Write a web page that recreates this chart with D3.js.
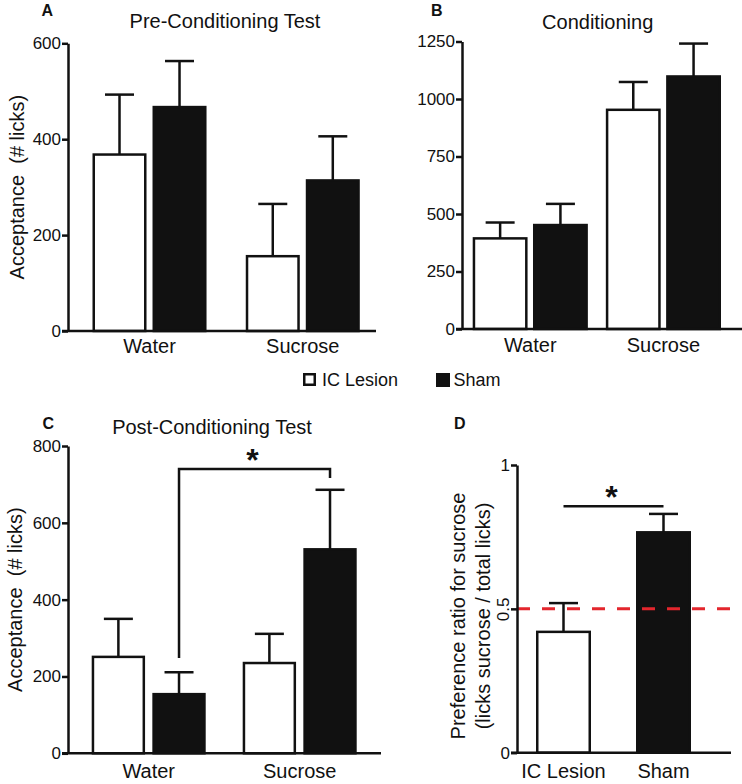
<!DOCTYPE html>
<html>
<head>
<meta charset="utf-8">
<script src="https://cdn.jsdelivr.net/npm/d3@7"></script>
<style>
  body { margin: 0; background: #fff; }
  svg { display: block; font-family: "Liberation Sans", Arial, sans-serif; }
</style>
</head>
<body>
<div id="chart"></div>
<script>
// categories
const groups = ['Water', 'Sucrose'];
const treatments = ['IC Lesion', 'Sham'];

// A - pre-conditioning test (mean / SEM, # licks)
const preLesion = [368, 156];
const preLesionSem = [125, 109];
const preSham = [467, 314];
const preShamSem = [96, 92];

// B - conditioning
const condLesion = [394, 953];
const condLesionSem = [69, 121];
const condSham = [452, 1098];
const condShamSem = [92, 143];

// C - post-conditioning test
const postLesion = [251, 235];
const postLesionSem = [99, 76];
const postSham = [154, 531];
const postShamSem = [57, 155];
// bracket: left leg end, top, right leg end (# licks)
const postBracket = [248, 740, 717];

// D - preference ratio
const ratioMean = [0.42, 0.766];
const ratioSem = [0.10, 0.064];
const ratioSigLine = 0.857;
const chanceLevel = 0.5;

// tick labels
const ticksA = [0, 200, 400, 600];
const ticksB = [0, 250, 500, 750, 1000, 1250];
const ticksC = [0, 200, 400, 600, 800];
const ticksD = [0, 0.5, 1];

const W = 742, H = 784;
const ink = '#111';
const lw = 2.5;

const svg = d3.select('#chart').append('svg')
  .attr('width', W)
  .attr('height', H);

function yAxis(g, y, ticks, fmt) {
  const ax = d3.axisLeft(y).tickValues(ticks).tickSize(6).tickPadding(1).tickSizeOuter(0)
    .tickFormat(fmt || d3.format('d'));
  g.call(ax);
  g.attr('font-family', null).attr('font-size', null);
  g.select('.domain').attr('stroke', ink).attr('stroke-width', lw);
  g.selectAll('.tick line').attr('stroke', ink).attr('stroke-width', lw);
  g.selectAll('.tick text').attr('fill', ink).style('font-size', '17px');
}

function barPanel(p) {
  const y = d3.scaleLinear().domain([0, p.yMax]).range([p.y0, p.y1]);
  const x0 = d3.scaleBand().domain(groups).range([p.xa, p.xb]).paddingInner(p.pad);
  const x1 = d3.scaleBand().domain(treatments).range([0, x0.bandwidth()]).paddingInner(p.subPad);

  const rows = groups.flatMap((gName, i) => [
    { g: gName, t: 'IC Lesion', m: p.lesion[i], e: p.lesionSem[i] },
    { g: gName, t: 'Sham', m: p.sham[i], e: p.shamSem[i] }
  ]);
  const cx = d => x0(d.g) + x1(d.t) + x1.bandwidth() / 2;

  const g = svg.append('g');

  // error bars
  g.selectAll('line.stem').data(rows).enter().append('line')
    .attr('x1', cx).attr('x2', cx)
    .attr('y1', d => y(d.m)).attr('y2', d => y(d.m + d.e))
    .attr('stroke', ink).attr('stroke-width', lw);
  g.selectAll('line.cap').data(rows).enter().append('line')
    .attr('x1', d => cx(d) - 14.5).attr('x2', d => cx(d) + 14.5)
    .attr('y1', d => y(d.m + d.e)).attr('y2', d => y(d.m + d.e))
    .attr('stroke', ink).attr('stroke-width', lw);

  // bars
  g.selectAll('rect').data(rows).enter().append('rect')
    .attr('x', d => x0(d.g) + x1(d.t) + lw / 2)
    .attr('width', x1.bandwidth() - lw)
    .attr('y', d => y(d.m))
    .attr('height', d => p.y0 - y(d.m))
    .attr('fill', d => d.t === 'Sham' ? ink : '#fff')
    .attr('stroke', ink).attr('stroke-width', lw);

  // axes
  g.append('line')
    .attr('x1', p.ax - 6).attr('x2', p.xEnd)
    .attr('y1', p.y0).attr('y2', p.y0)
    .attr('stroke', ink).attr('stroke-width', lw);
  yAxis(g.append('g').attr('transform', `translate(${p.ax},0)`), y, p.ticks);

  const xg = g.append('g').attr('transform', `translate(0,${p.y0})`)
    .call(d3.axisBottom(x0).tickSize(0).tickPadding(p.labPad));
  xg.attr('font-family', null).attr('font-size', null);
  xg.select('.domain').remove();
  xg.selectAll('text').attr('fill', ink).style('font-size', '20px');

  // title, panel letter, y label
  if (p.title) {
    g.append('text').attr('x', p.titleX).attr('y', p.titleY)
      .attr('text-anchor', 'middle').style('font-size', '20px').attr('fill', ink)
      .text(p.title);
  }
  g.append('text').attr('x', p.letterX).attr('y', p.letterY)
    .style('font-size', '16px').style('font-weight', 700).attr('fill', ink)
    .text(p.letter);
  if (p.yLabel) {
    g.append('text')
      .attr('transform', `translate(${p.yLabX},${(p.y0 + p.y1) / 2}) rotate(-90)`)
      .attr('text-anchor', 'middle').style('font-size', '20px').attr('fill', ink)
      .text(p.yLabel);
  }
  return { x0, x1, y, g, cx };
}

// A
barPanel({
  lesion: preLesion, lesionSem: preLesionSem, sham: preSham, shamSem: preShamSem,
  yMax: 600, ticks: ticksA, y0: 331, y1: 43.3,
  xa: 92.5, xb: 359.8, pad: 0.256, subPad: 0.1, ax: 68, xEnd: 376, labPad: 8,
  title: 'Pre-Conditioning Test', titleX: 225, titleY: 28,
  letter: 'A', letterX: 41.5, letterY: 15.5,
  yLabel: 'Acceptance\u00a0\u00a0(# licks)', yLabX: 24
});

// B
barPanel({
  lesion: condLesion, lesionSem: condLesionSem, sham: condSham, shamSem: condShamSem,
  yMax: 1250, ticks: ticksB, y0: 329, y1: 41.5,
  xa: 472.7, xb: 721, pad: 0.135, subPad: 0.09, ax: 462, xEnd: 742, labPad: 8.5,
  title: 'Conditioning', titleX: 597.7, titleY: 29,
  letter: 'B', letterX: 431, letterY: 15.5
});

// C
const pc = barPanel({
  lesion: postLesion, lesionSem: postLesionSem, sham: postSham, shamSem: postShamSem,
  yMax: 800, ticks: ticksC, y0: 753.3, y1: 446,
  xa: 91.7, xb: 356.7, pad: 0.245, subPad: 0.12, ax: 68, xEnd: 381, labPad: 10.5,
  title: 'Post-Conditioning Test', titleX: 212, titleY: 434,
  letter: 'C', letterX: 42.5, letterY: 428.5,
  yLabel: 'Acceptance\u00a0\u00a0(# licks)', yLabX: 22
});

// C significance bracket
{
  const xl = pc.x0('Water') + pc.x1('Sham') + pc.x1.bandwidth() / 2;
  const xr = pc.x0('Sucrose') + pc.x1('Sham') + pc.x1.bandwidth() / 2;
  const line = d3.line();
  pc.g.append('path')
    .attr('d', line([[xl, pc.y(postBracket[0])], [xl, pc.y(postBracket[1])],
                     [xr, pc.y(postBracket[1])], [xr, pc.y(postBracket[2])]]))
    .attr('fill', 'none').attr('stroke', ink).attr('stroke-width', lw);
  pc.g.append('text')
    .attr('x', (xl + xr) / 2 - 2).attr('y', pc.y(postBracket[1]) - 14 + 16)
    .attr('text-anchor', 'middle').style('font-size', '32px').style('font-weight', 700)
    .attr('fill', ink).text('*');
}

// D
{
  const y0 = 752.7, y1 = 465, ax = 517;
  const y = d3.scaleLinear().domain([0, 1]).range([y0, y1]);
  const x = d3.scaleBand().domain(treatments).range([536, 691]).paddingInner(0.45);
  const cx = t => x(t) + x.bandwidth() / 2;
  const g = svg.append('g');

  g.selectAll('line.stem').data(treatments).enter().append('line')
    .attr('x1', cx).attr('x2', cx)
    .attr('y1', (t, i) => y(ratioMean[i])).attr('y2', (t, i) => y(ratioMean[i] + ratioSem[i]))
    .attr('stroke', ink).attr('stroke-width', lw);
  g.selectAll('line.cap').data(treatments).enter().append('line')
    .attr('x1', t => cx(t) - 14.5).attr('x2', t => cx(t) + 14.5)
    .attr('y1', (t, i) => y(ratioMean[i] + ratioSem[i])).attr('y2', (t, i) => y(ratioMean[i] + ratioSem[i]))
    .attr('stroke', ink).attr('stroke-width', lw);

  g.selectAll('rect').data(treatments).enter().append('rect')
    .attr('x', t => x(t) + lw / 2)
    .attr('width', x.bandwidth() - lw)
    .attr('y', (t, i) => y(ratioMean[i]))
    .attr('height', (t, i) => y0 - y(ratioMean[i]))
    .attr('fill', t => t === 'Sham' ? ink : '#fff')
    .attr('stroke', ink).attr('stroke-width', lw);

  // chance line
  g.append('line')
    .attr('x1', ax).attr('x2', 731)
    .attr('y1', y(chanceLevel)).attr('y2', y(chanceLevel))
    .attr('stroke', '#e3262d').attr('stroke-width', 3)
    .attr('stroke-dasharray', '13 12');

  g.append('line')
    .attr('x1', ax - 6).attr('x2', 731)
    .attr('y1', y0).attr('y2', y0)
    .attr('stroke', ink).attr('stroke-width', lw);
  const yg = g.append('g').attr('transform', `translate(${ax},0)`);
  yAxis(yg, y, ticksD, d => d === 0.5 ? '0.5' : d3.format('d')(d));
  yg.selectAll('.tick').filter(d => d === 0.5).select('text')
    .attr('x', 0).attr('dy', 0).attr('text-anchor', 'middle')
    .attr('transform', 'translate(-8,0) rotate(-90)');

  const xg = g.append('g').attr('transform', `translate(0,${y0})`)
    .call(d3.axisBottom(x).tickSize(0).tickPadding(11));
  xg.attr('font-family', null).attr('font-size', null);
  xg.select('.domain').remove();
  xg.selectAll('text').attr('fill', ink).style('font-size', '20px');

  // significance
  g.append('line')
    .attr('x1', cx('IC Lesion')).attr('x2', cx('Sham'))
    .attr('y1', y(ratioSigLine)).attr('y2', y(ratioSigLine))
    .attr('stroke', ink).attr('stroke-width', lw);
  g.append('text')
    .attr('x', (cx('IC Lesion') + cx('Sham')) / 2 - 2).attr('y', y(ratioSigLine) - 14.5 + 16)
    .attr('text-anchor', 'middle').style('font-size', '32px').style('font-weight', 700)
    .attr('fill', ink).text('*');

  g.append('text').attr('x', 454).attr('y', 428.5)
    .style('font-size', '16px').style('font-weight', 700).attr('fill', ink).text('D');

  const yl = g.append('text')
    .attr('transform', `translate(465,616) rotate(-90)`)
    .attr('text-anchor', 'middle').style('font-size', '20px').attr('fill', ink);
  yl.append('tspan').attr('x', 0).attr('y', 0).text('Preference ratio for sucrose');
  yl.append('tspan').attr('x', 0).attr('y', 25).text('(licks sucrose / total licks)');
}

// legend
{
  const lg = svg.append('g');
  lg.append('rect').attr('x', 304.25).attr('y', 374.25).attr('width', 10.5).attr('height', 10.5)
    .attr('fill', '#fff').attr('stroke', ink).attr('stroke-width', lw);
  lg.append('text').attr('x', 322).attr('y', 386).style('font-size', '18px').attr('fill', ink)
    .text(treatments[0]);
  lg.append('rect').attr('x', 436).attr('y', 373).attr('width', 14).attr('height', 14)
    .attr('fill', ink);
  lg.append('text').attr('x', 453.5).attr('y', 386).style('font-size', '18px').attr('fill', ink)
    .text(treatments[1]);
}
</script>
</body>
</html>
